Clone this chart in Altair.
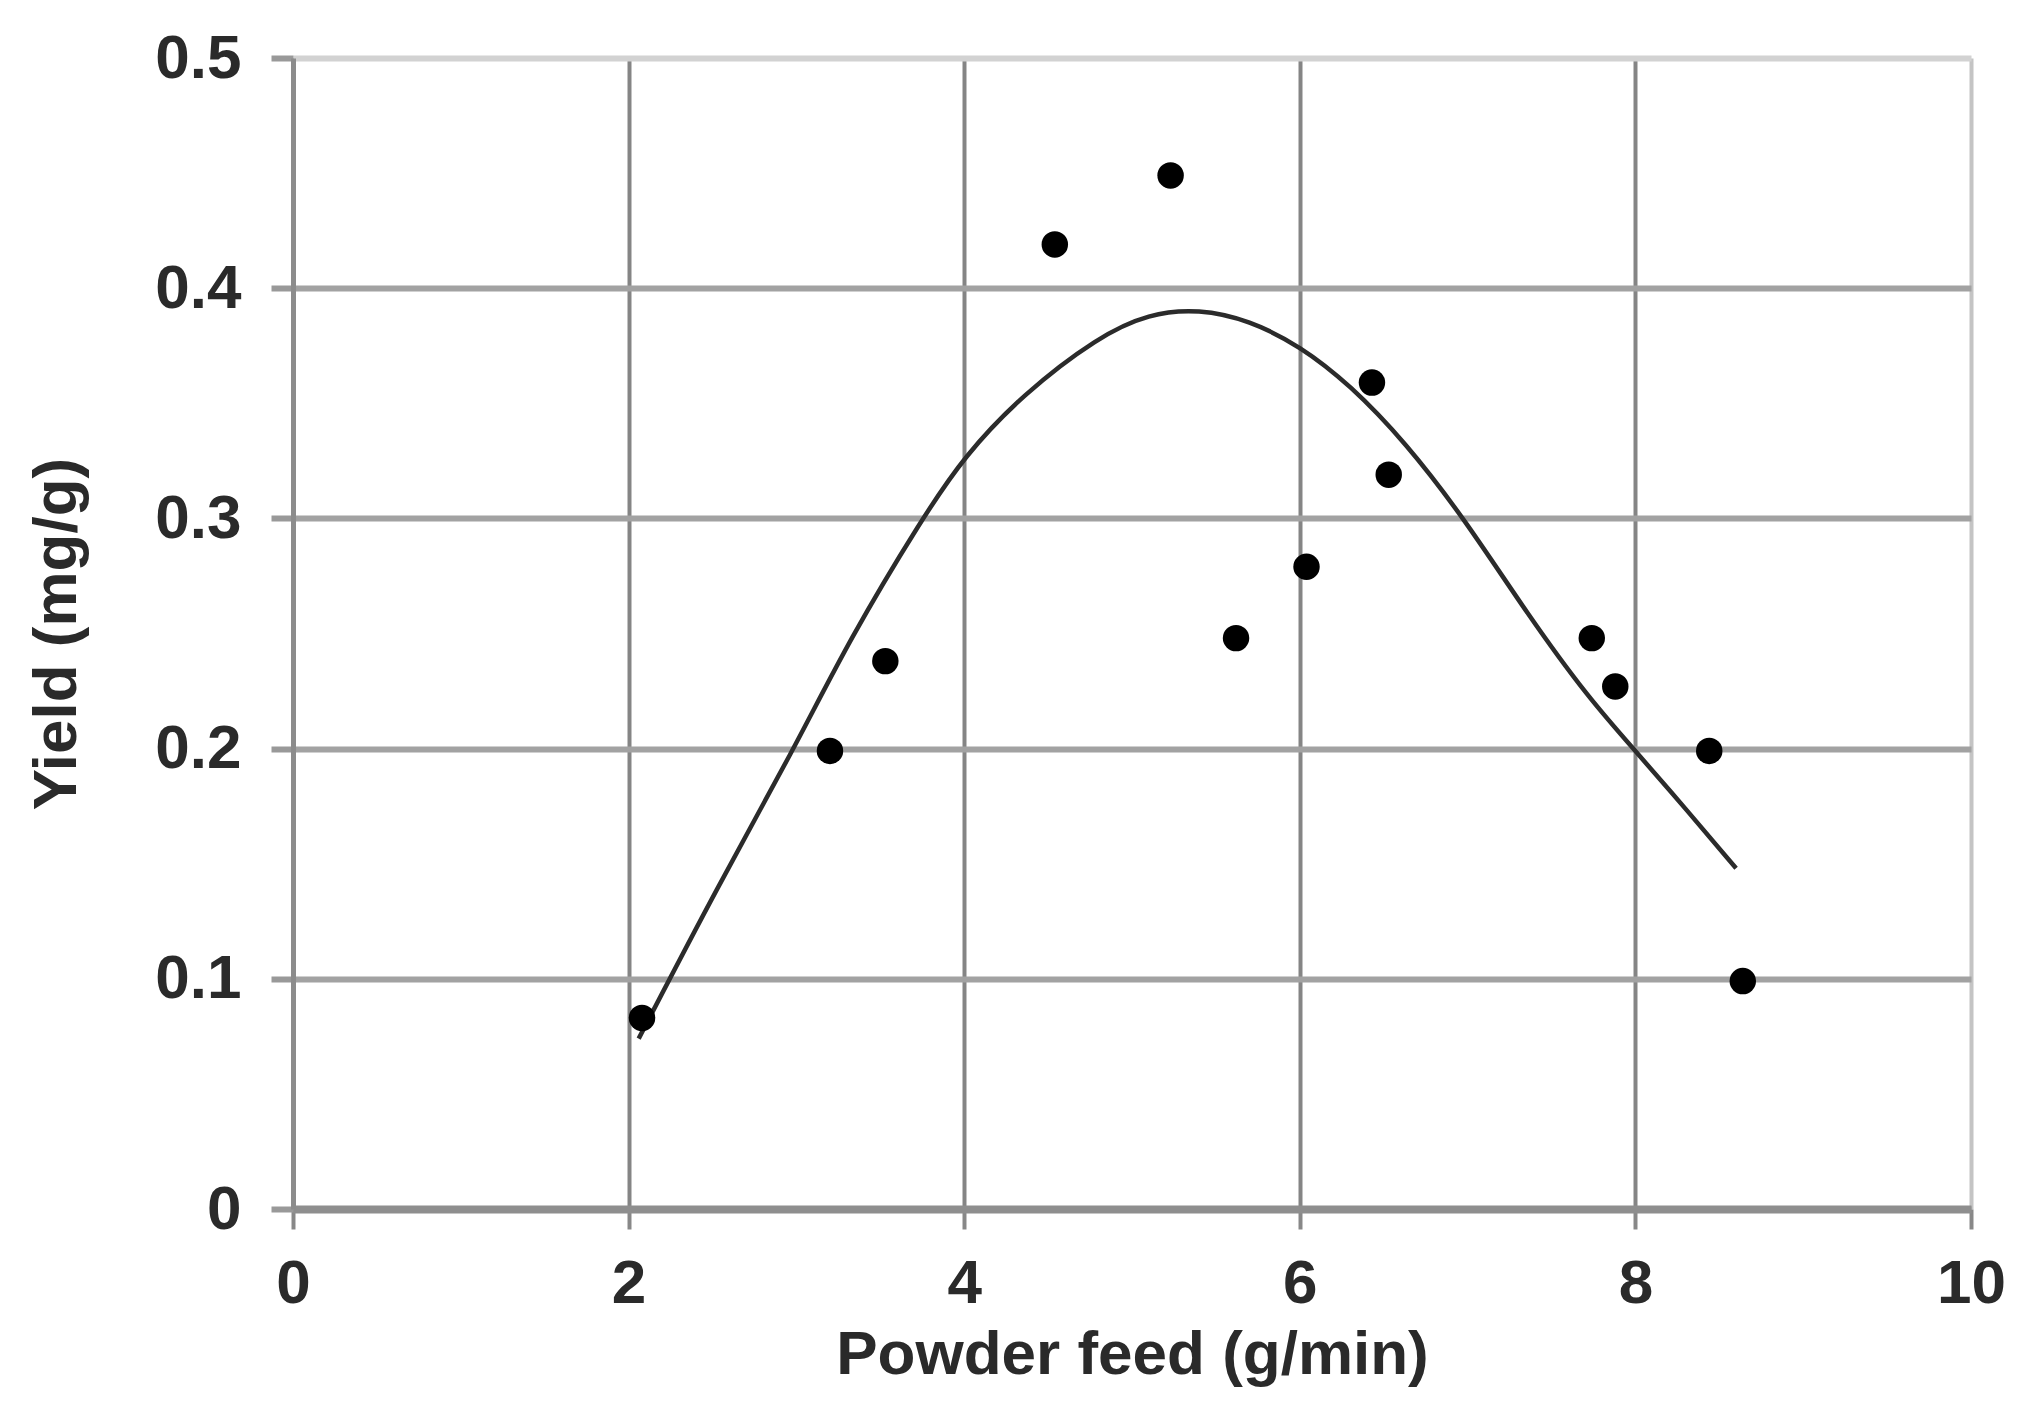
import altair as alt
import pandas as pd

# measured data points (Powder feed g/min, Yield mg/g)
pt_x = [2.08, 3.20, 3.53, 4.54, 5.23, 5.62, 6.04, 6.43, 6.53, 7.74, 7.88, 8.44, 8.64]
pt_y = [0.083, 0.199, 0.238, 0.419, 0.449, 0.248, 0.279, 0.359, 0.319, 0.248, 0.227, 0.199, 0.099]

# fitted curve
cv_x = [2.06, 2.53, 2.98, 3.32, 3.75, 4.0, 4.35, 4.8, 5.1, 5.4, 5.7, 6.0, 6.3, 6.63, 6.98, 7.36, 7.72, 8.0, 8.31, 8.60]
cv_y = [0.074, 0.140, 0.199, 0.248, 0.300, 0.327, 0.354, 0.379, 0.389, 0.391, 0.386, 0.375, 0.358, 0.333, 0.300, 0.258, 0.222, 0.199, 0.173, 0.148]

x_ticks = [0, 2, 4, 6, 8, 10]
y_ticks = [0, 0.1, 0.2, 0.3, 0.4, 0.5]

pts = pd.DataFrame({"x": pt_x, "y": pt_y})
cv = pd.DataFrame({"x": cv_x, "y": cv_y})

FONT = "Liberation Sans"

xs = alt.Scale(domain=[0, 10], nice=False, zero=False)
ys = alt.Scale(domain=[0, 0.5], nice=False, zero=False)

x_axis = alt.Axis(
    values=x_ticks, format="d", title="Powder feed (g/min)",
    grid=True,
    gridColor={"condition": {"test": "datum.value == 10", "value": "#c4c4c4"}, "value": "#858585"},
    gridWidth=4,
    domainColor="#8e8e8e", domainWidth=8,
    tickColor="#888888", tickWidth=4, tickSize=20,
    labelFont=FONT, labelFontWeight="bold", labelFontSize=62, labelColor="#2a2a2a",
    labelPadding=24, labelFlush=False,
    titleFont=FONT, titleFontWeight="bold", titleFontSize=62, titleColor="#2a2a2a",
    titlePadding=10,
)
y_axis = alt.Axis(
    values=y_ticks, format="~g", title="Yield (mg/g)",
    grid=True,
    gridColor={"condition": {"test": "datum.value > 0.45", "value": "#d2d2d2"}, "value": "#a2a2a2"},
    gridWidth=6,
    domainColor="#8c8c8c", domainWidth=5,
    tickColor="#999999", tickWidth=6, tickSize=22,
    labelFont=FONT, labelFontWeight="bold", labelFontSize=62, labelColor="#2a2a2a",
    labelPadding=30, labelFlush=False,
    titleFont=FONT, titleFontWeight="bold", titleFontSize=62, titleColor="#2a2a2a",
    titlePadding=66,
)

curve = alt.Chart(cv).mark_line(color="#2b2b2b", strokeWidth=4.5, interpolate="basis").encode(
    x=alt.X("x:Q", scale=xs, axis=x_axis),
    y=alt.Y("y:Q", scale=ys, axis=y_axis),
)
dots = alt.Chart(pts).mark_circle(color="#000000", opacity=1, size=700).encode(
    x=alt.X("x:Q", scale=xs),
    y=alt.Y("y:Q", scale=ys),
)

chart = alt.layer(curve, dots).properties(
    width=1678, height=1151,
    autosize=alt.AutoSizeParams(type="none"),
    padding={"left": 285, "top": 50, "right": 50, "bottom": 190},
    background="white",
).configure_view(stroke=None)

chart.save("out.html", embed_options={"renderer": "svg", "actions": False})
